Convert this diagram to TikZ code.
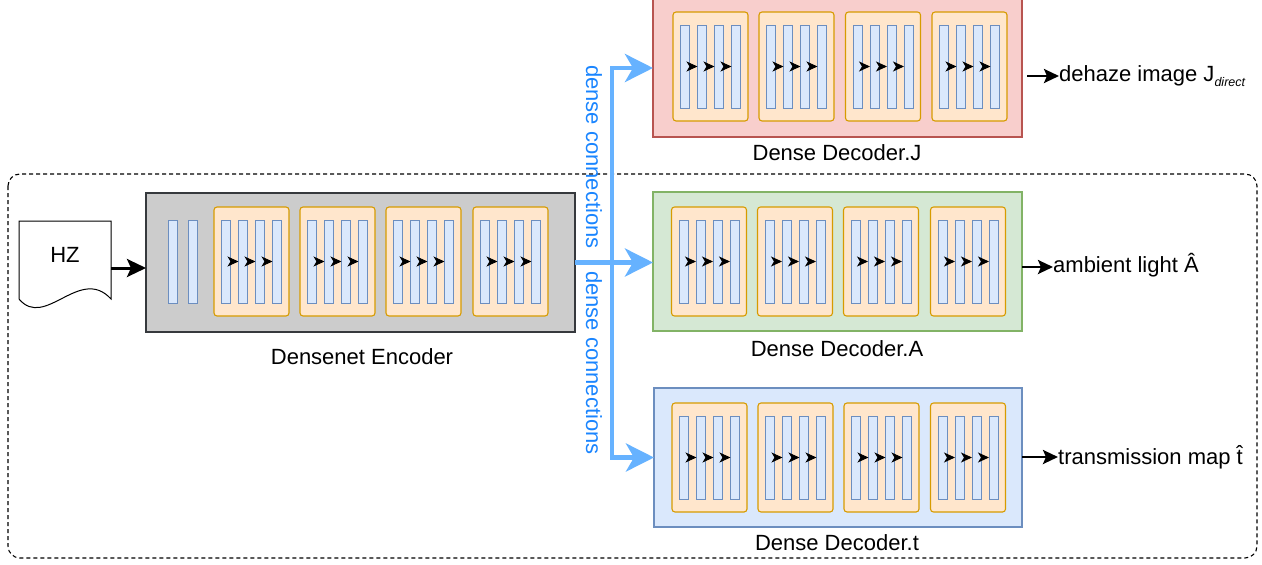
\documentclass[tikz,border=0pt]{standalone}
\usepackage{fontspec}
\setmainfont{Liberation Sans}
\usetikzlibrary{arrows.meta,calc}
\definecolor{encfill}{HTML}{CCCCCC}
\definecolor{encdraw}{HTML}{36393D}
\definecolor{jfill}{HTML}{F8CECC}
\definecolor{jdraw}{HTML}{B85450}
\definecolor{afill}{HTML}{D5E8D4}
\definecolor{adraw}{HTML}{82B366}
\definecolor{tfill}{HTML}{DAE8FC}
\definecolor{tdraw}{HTML}{6C8EBF}
\definecolor{ofill}{HTML}{FFE6CC}
\definecolor{odraw}{HTML}{D79B00}
\definecolor{conn}{HTML}{66B2FF}
\definecolor{conntext}{HTML}{1A85FF}
\tikzset{
  ublock/.style={draw=odraw,fill=ofill,line width=1.1pt,rounded corners=3pt,minimum width=75pt,minimum height=109pt,inner sep=0pt,outer sep=0pt},
  ubar/.style={draw=tdraw,fill=tfill,line width=1pt,minimum width=9pt,minimum height=83pt,inner sep=0pt,outer sep=0pt},
  inarrow/.style={line width=1pt,-{Stealth[length=11pt,width=10pt,inset=3pt]}},
  bigbox/.style={line width=1.2pt,inner sep=0pt,outer sep=0pt},
  connline/.style={draw=conn,line width=4.8pt,-{Stealth[length=28pt,width=28pt,inset=8pt]}},
  blackarrow/.style={line width=3pt,-{Stealth[length=19pt,width=18pt,inset=4pt]}},
  outarrow/.style={line width=2.6pt,-{Stealth[length=15pt,width=14pt,inset=3pt]}},
  lbl/.style={inner sep=0pt},
  conntxt/.style={text=conntext,rotate=-90,inner sep=0pt}
}
\newcommand\dblock[3]{%
  \node[ublock] (#1) at (#2,#3) {};
  \foreach \i/\dx in {1/-25.5,2/-8.5,3/8.5,4/25.5}
    \node[ubar] (#1-\i) at ($(#1.center)+(\dx,0)$) {};
  \foreach \i/\j in {1/2,2/3,3/4}
    \draw[inarrow] (#1-\i.east) -- (#1-\j.west);
}
\begin{document}
\begin{tikzpicture}[x=1pt,y=-1pt,font=\fontsize{22}{26}\selectfont]
\useasboundingbox (0,0) rectangle (1262,565);

% outer dashed frame
\draw[line width=1.1pt,dash pattern=on 4pt off 3pt,rounded corners=12pt] (8,174) rectangle (1257,558);

% decoder boxes
\node[bigbox,draw=jdraw,fill=jfill,minimum width=369pt,minimum height=140pt] (dJ) at (837.5,67) {};
\node[bigbox,draw=adraw,fill=afill,minimum width=369pt,minimum height=139pt] (dA) at (837.5,261.5) {};
\node[bigbox,draw=tdraw,fill=tfill,minimum width=368pt,minimum height=139pt] (dT) at (838,457.5) {};

% encoder box
\node[bigbox,draw=encdraw,fill=encfill,minimum width=429pt,minimum height=139pt] (enc) at (360.5,262.5) {};
\node[ubar] (enc0-1) at (172.5,261.5) {};
\node[ubar] (enc0-2) at (192.5,261.5) {};
\dblock{e1}{251.5}{261.5}
\dblock{e2}{337.5}{261.5}
\dblock{e3}{423.5}{261.5}
\dblock{e4}{510.5}{261.5}

% decoder blocks
\dblock{j1}{710.5}{66.5}
\dblock{j2}{796.5}{66.5}
\dblock{j3}{883}{66.5}
\dblock{j4}{969.5}{66.5}
\dblock{a1}{709}{261.5}
\dblock{a2}{795}{261.5}
\dblock{a3}{881}{261.5}
\dblock{a4}{968}{261.5}
\dblock{t1}{709.5}{457.5}
\dblock{t2}{795.5}{457.5}
\dblock{t3}{881.5}{457.5}
\dblock{t4}{968}{457.5}

% labels
\node[lbl] (encl) at (362,357) {Densenet Encoder};
\node[lbl] (dJl) at (837,153) {Dense Decoder.J};
\node[lbl] (dAl) at (837,349) {Dense Decoder.A};
\node[lbl] (dTl) at (837,543) {Dense Decoder.t};

% HZ document
\draw[line width=1pt,fill=white] (19,221) -- (111,221) -- (111,299)
  .. controls (80,265) and (45,330) .. (19,299) -- cycle;
\node[lbl] (hzt) at (65,255) {HZ};
\coordinate (hzout) at (111,268);
\draw[blackarrow] (hzout) -- (hzout -| enc.west);

% dense connections
\coordinate (split) at (612,262.5);
\draw[connline] (enc.east |- split) -- (dA.west |- split);
\draw[connline] (split) |- (dJ.west |- 0,68);
\draw[connline] (split) |- (dT.west);
\node[conntxt] (ct1) at (594,157) {dense connections};
\node[conntxt] (ct2) at (594,363) {dense connections};

% outputs
\node[lbl,anchor=west] (outJ) at (1059,76) {dehaze image J\raisebox{-5pt}{\fontsize{12.5}{12.5}\selectfont\itshape direct}};
\node[lbl,anchor=west] (outA) at (1053,265) {ambient light Â};
\node[lbl,anchor=west] (outT) at (1058,457) {transmission map t̂};
\draw[outarrow,shorten <=5pt] (dJ.east |- 0,76) -- (outJ.west |- 0,76);
\draw[outarrow] (dA.east |- 0,267) -- (outA.west |- 0,267);
\draw[outarrow] (dT.east |- 0,457) -- (outT.west |- 0,457);
\end{tikzpicture}
\end{document}
